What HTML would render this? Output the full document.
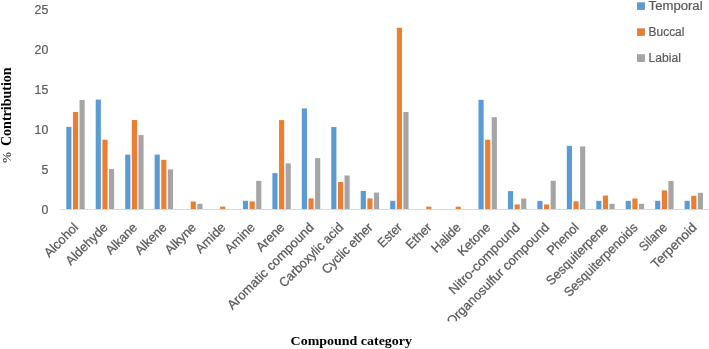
<!DOCTYPE html>
<html><head><meta charset="utf-8"><style>
html,body{margin:0;padding:0;background:#fff;}
body{width:709px;height:349px;overflow:hidden;position:relative;}
svg{position:absolute;left:0;top:0;will-change:transform;}
.t{font-family:"Liberation Sans",sans-serif;font-size:12px;fill:#595959;stroke:#595959;stroke-width:0.2px;}
.c{font-family:"Liberation Sans",sans-serif;font-size:13.0px;fill:#595959;stroke:#595959;stroke-width:0.25px;}
.ttl{font-family:"Liberation Serif",serif;font-weight:bold;font-size:14px;fill:#000;}
</style></head><body>
<svg width="709" height="349" viewBox="0 0 709 349">
<rect x="0" y="0" width="709" height="349" fill="#fff"/>
<g><rect x="66.29" y="126.90" width="5.15" height="82.10" fill="#5b9bd5"/><rect x="72.94" y="112.00" width="5.15" height="97.00" fill="#ed7d31"/><rect x="79.54" y="100.00" width="5.15" height="109.00" fill="#a5a5a5"/><rect x="95.73" y="99.60" width="5.15" height="109.40" fill="#5b9bd5"/><rect x="102.38" y="139.70" width="5.15" height="69.30" fill="#ed7d31"/><rect x="108.98" y="169.10" width="5.15" height="39.90" fill="#a5a5a5"/><rect x="125.18" y="154.60" width="5.15" height="54.40" fill="#5b9bd5"/><rect x="131.83" y="120.05" width="5.15" height="88.95" fill="#ed7d31"/><rect x="138.43" y="135.00" width="5.15" height="74.00" fill="#a5a5a5"/><rect x="154.62" y="154.60" width="5.15" height="54.40" fill="#5b9bd5"/><rect x="161.27" y="159.80" width="5.15" height="49.20" fill="#ed7d31"/><rect x="167.87" y="169.40" width="5.15" height="39.60" fill="#a5a5a5"/><rect x="190.71" y="201.50" width="5.15" height="7.50" fill="#ed7d31"/><rect x="197.31" y="203.80" width="5.15" height="5.20" fill="#a5a5a5"/><rect x="220.15" y="206.60" width="5.15" height="2.40" fill="#ed7d31"/><rect x="242.95" y="200.80" width="5.15" height="8.20" fill="#5b9bd5"/><rect x="249.60" y="201.40" width="5.15" height="7.60" fill="#ed7d31"/><rect x="256.20" y="180.90" width="5.15" height="28.10" fill="#a5a5a5"/><rect x="272.39" y="173.10" width="5.15" height="35.90" fill="#5b9bd5"/><rect x="279.04" y="120.10" width="5.15" height="88.90" fill="#ed7d31"/><rect x="285.64" y="163.40" width="5.15" height="45.60" fill="#a5a5a5"/><rect x="301.83" y="108.40" width="5.15" height="100.60" fill="#5b9bd5"/><rect x="308.48" y="198.40" width="5.15" height="10.60" fill="#ed7d31"/><rect x="315.08" y="158.10" width="5.15" height="50.90" fill="#a5a5a5"/><rect x="331.28" y="127.00" width="5.15" height="82.00" fill="#5b9bd5"/><rect x="337.93" y="182.00" width="5.15" height="27.00" fill="#ed7d31"/><rect x="344.53" y="175.50" width="5.15" height="33.50" fill="#a5a5a5"/><rect x="360.72" y="191.00" width="5.15" height="18.00" fill="#5b9bd5"/><rect x="367.37" y="198.40" width="5.15" height="10.60" fill="#ed7d31"/><rect x="373.97" y="192.60" width="5.15" height="16.40" fill="#a5a5a5"/><rect x="390.16" y="200.80" width="5.15" height="8.20" fill="#5b9bd5"/><rect x="396.81" y="27.80" width="5.15" height="181.20" fill="#ed7d31"/><rect x="403.41" y="112.00" width="5.15" height="97.00" fill="#a5a5a5"/><rect x="426.26" y="206.70" width="5.15" height="2.30" fill="#ed7d31"/><rect x="455.70" y="206.70" width="5.15" height="2.30" fill="#ed7d31"/><rect x="478.49" y="99.80" width="5.15" height="109.20" fill="#5b9bd5"/><rect x="485.14" y="139.80" width="5.15" height="69.20" fill="#ed7d31"/><rect x="491.74" y="117.20" width="5.15" height="91.80" fill="#a5a5a5"/><rect x="507.94" y="191.10" width="5.15" height="17.90" fill="#5b9bd5"/><rect x="514.59" y="204.50" width="5.15" height="4.50" fill="#ed7d31"/><rect x="521.18" y="198.50" width="5.15" height="10.50" fill="#a5a5a5"/><rect x="537.38" y="200.90" width="5.15" height="8.10" fill="#5b9bd5"/><rect x="544.03" y="204.50" width="5.15" height="4.50" fill="#ed7d31"/><rect x="550.63" y="180.80" width="5.15" height="28.20" fill="#a5a5a5"/><rect x="566.82" y="145.80" width="5.15" height="63.20" fill="#5b9bd5"/><rect x="573.47" y="201.30" width="5.15" height="7.70" fill="#ed7d31"/><rect x="580.07" y="146.40" width="5.15" height="62.60" fill="#a5a5a5"/><rect x="596.26" y="200.90" width="5.15" height="8.10" fill="#5b9bd5"/><rect x="602.91" y="195.60" width="5.15" height="13.40" fill="#ed7d31"/><rect x="609.51" y="203.80" width="5.15" height="5.20" fill="#a5a5a5"/><rect x="625.71" y="200.90" width="5.15" height="8.10" fill="#5b9bd5"/><rect x="632.36" y="198.50" width="5.15" height="10.50" fill="#ed7d31"/><rect x="638.96" y="203.80" width="5.15" height="5.20" fill="#a5a5a5"/><rect x="655.15" y="200.80" width="5.15" height="8.20" fill="#5b9bd5"/><rect x="661.80" y="190.40" width="5.15" height="18.60" fill="#ed7d31"/><rect x="668.40" y="181.00" width="5.15" height="28.00" fill="#a5a5a5"/><rect x="684.59" y="200.80" width="5.15" height="8.20" fill="#5b9bd5"/><rect x="691.24" y="195.80" width="5.15" height="13.20" fill="#ed7d31"/><rect x="697.84" y="192.80" width="5.15" height="16.20" fill="#a5a5a5"/></g>
<rect x="61" y="209" width="648" height="1" fill="#d9d9d9"/>
<g class="t"><text x="48.3" y="214.05" text-anchor="end" style="font-size:12.3px">0</text><text x="48.3" y="174.00" text-anchor="end" style="font-size:12.3px">5</text><text x="48.3" y="133.95" text-anchor="end" style="font-size:12.3px">10</text><text x="48.3" y="93.90" text-anchor="end" style="font-size:12.3px">15</text><text x="48.3" y="53.85" text-anchor="end" style="font-size:12.3px">20</text><text x="48.3" y="13.80" text-anchor="end" style="font-size:12.3px">25</text></g>
<clipPath id="cl"><rect x="0" y="0" width="709" height="321.3"/></clipPath><g class="c" clip-path="url(#cl)"><text x="79.09" y="228.20" transform="rotate(-45 79.09 228.20)" text-anchor="end" textLength="42.3" lengthAdjust="spacingAndGlyphs">Alcohol</text><text x="108.53" y="228.20" transform="rotate(-45 108.53 228.20)" text-anchor="end" textLength="53.3" lengthAdjust="spacingAndGlyphs">Aldehyde</text><text x="137.98" y="228.20" transform="rotate(-45 137.98 228.20)" text-anchor="end" textLength="38.4" lengthAdjust="spacingAndGlyphs">Alkane</text><text x="167.42" y="228.20" transform="rotate(-45 167.42 228.20)" text-anchor="end" textLength="38.7" lengthAdjust="spacingAndGlyphs">Alkene</text><text x="196.86" y="228.20" transform="rotate(-45 196.86 228.20)" text-anchor="end" textLength="38.0" lengthAdjust="spacingAndGlyphs">Alkyne</text><text x="226.30" y="228.20" transform="rotate(-45 226.30 228.20)" text-anchor="end" textLength="36.5" lengthAdjust="spacingAndGlyphs">Amide</text><text x="255.75" y="228.20" transform="rotate(-45 255.75 228.20)" text-anchor="end" textLength="36.5" lengthAdjust="spacingAndGlyphs">Amine</text><text x="285.19" y="228.20" transform="rotate(-45 285.19 228.20)" text-anchor="end" textLength="34.0" lengthAdjust="spacingAndGlyphs">Arene</text><text x="314.63" y="228.20" transform="rotate(-45 314.63 228.20)" text-anchor="end" textLength="116.2" lengthAdjust="spacingAndGlyphs">Aromatic compound</text><text x="344.08" y="228.20" transform="rotate(-45 344.08 228.20)" text-anchor="end" textLength="84.6" lengthAdjust="spacingAndGlyphs">Carboxylic acid</text><text x="373.52" y="228.20" transform="rotate(-45 373.52 228.20)" text-anchor="end" textLength="65.8" lengthAdjust="spacingAndGlyphs">Cyclic ether</text><text x="402.96" y="228.20" transform="rotate(-45 402.96 228.20)" text-anchor="end" textLength="28.5" lengthAdjust="spacingAndGlyphs">Ester</text><text x="432.41" y="228.20" transform="rotate(-45 432.41 228.20)" text-anchor="end" textLength="30.4" lengthAdjust="spacingAndGlyphs">Ether</text><text x="461.85" y="228.20" transform="rotate(-45 461.85 228.20)" text-anchor="end" textLength="35.9" lengthAdjust="spacingAndGlyphs">Halide</text><text x="491.29" y="228.20" transform="rotate(-45 491.29 228.20)" text-anchor="end" textLength="40.3" lengthAdjust="spacingAndGlyphs">Ketone</text><text x="520.74" y="228.20" transform="rotate(-45 520.74 228.20)" text-anchor="end" textLength="94.5" lengthAdjust="spacingAndGlyphs">Nitro-compound</text><text x="550.18" y="228.20" transform="rotate(-45 550.18 228.20)" text-anchor="end" textLength="138.9" lengthAdjust="spacingAndGlyphs">Organosulfur compound</text><text x="579.62" y="228.20" transform="rotate(-45 579.62 228.20)" text-anchor="end" textLength="39.2" lengthAdjust="spacingAndGlyphs">Phenol</text><text x="609.06" y="228.20" transform="rotate(-45 609.06 228.20)" text-anchor="end" textLength="81.7" lengthAdjust="spacingAndGlyphs">Sesquiterpene</text><text x="638.51" y="228.20" transform="rotate(-45 638.51 228.20)" text-anchor="end" textLength="98.1" lengthAdjust="spacingAndGlyphs">Sesquiterpenoids</text><text x="667.95" y="228.20" transform="rotate(-45 667.95 228.20)" text-anchor="end" textLength="33.6" lengthAdjust="spacingAndGlyphs">Silane</text><text x="697.39" y="228.20" transform="rotate(-45 697.39 228.20)" text-anchor="end" textLength="58.0" lengthAdjust="spacingAndGlyphs">Terpenoid</text></g>
<g class="t"><rect x="637.2" y="2.50" width="7.6" height="7.3" fill="#5b9bd5"/><text x="648.6" y="9.80" textLength="54.0" lengthAdjust="spacingAndGlyphs">Temporal</text><rect x="637.2" y="28.50" width="7.6" height="7.3" fill="#ed7d31"/><text x="648.6" y="35.80" textLength="35.8" lengthAdjust="spacingAndGlyphs">Buccal</text><rect x="637.2" y="54.50" width="7.6" height="7.3" fill="#a5a5a5"/><text x="648.6" y="61.80" textLength="32.3" lengthAdjust="spacingAndGlyphs">Labial</text></g>
<text class="ttl" x="10.7" y="162.9" transform="rotate(-90 10.7 162.9)" style="font-weight:normal;font-size:13.3px">%</text>
<text class="ttl" x="10.9" y="146.0" transform="rotate(-90 10.9 146.0)">Contribution</text>
<text class="ttl" x="290.6" y="345.3" style="font-size:13.2px" textLength="121.4" lengthAdjust="spacingAndGlyphs">Compound category</text>
</svg>
</body></html>
